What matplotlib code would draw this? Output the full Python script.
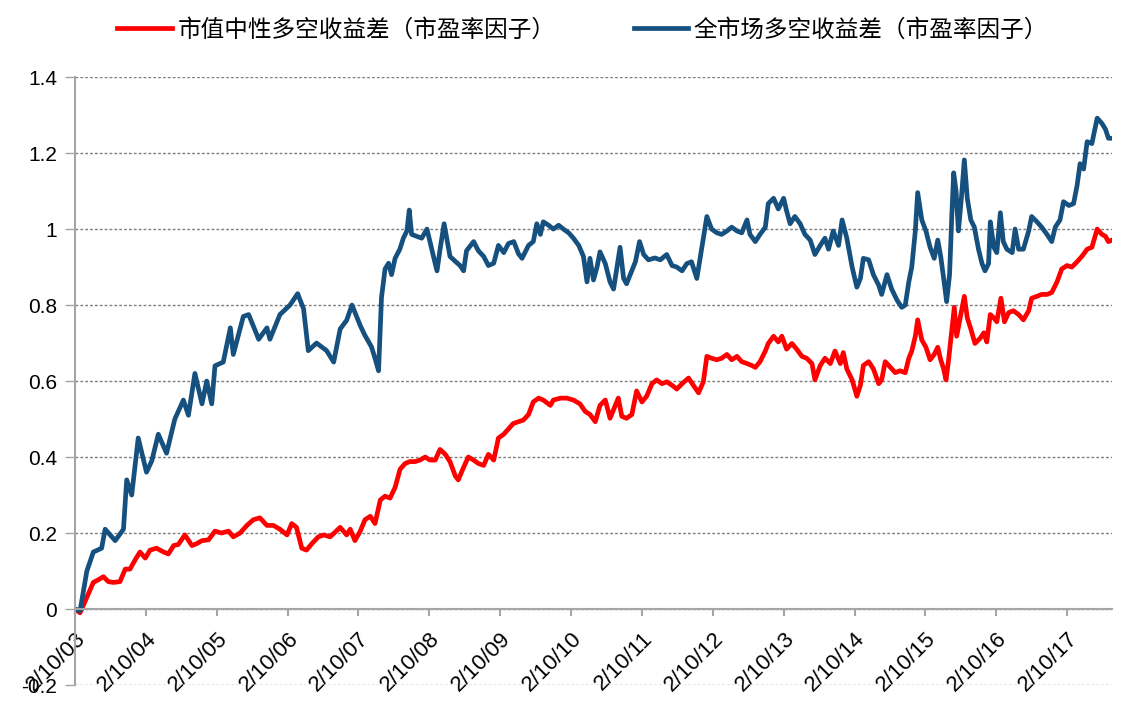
import numpy as np
import pandas as pd
import matplotlib
matplotlib.use('Agg')
import matplotlib.pyplot as plt

# months after 2003-02-10
red_months = [0, 0.85, 2.26, 3.1, 3.95, 4.8, 5.65, 6.5, 7.6, 8.5, 9.3, 10.2, 11.0, 11.9, 12.7,
              13.8, 15.0, 15.8, 16.7, 17.5, 18.6, 19.8, 20.6, 21.5, 22.6, 23.7, 24.8, 26.0, 26.8,
              27.95, 29.1, 30.2, 31.3, 32.5, 33.6, 34.7, 35.9, 36.7, 37.5, 38.4, 39.2, 40.1, 41.2,
              42.1, 43.2, 44.9, 46.0, 46.6, 47.4, 48.3, 49.1, 50.0, 50.8, 51.7, 52.5, 53.35, 54.2,
              55.05, 55.9, 56.7, 57.6, 58.4, 59.3, 60.1, 61.0, 61.8, 62.7, 63.5, 64.4, 64.9, 65.8,
              66.6, 67.5, 68.3, 69.2, 70.0, 70.9, 71.7, 72.6, 73.4, 74.2, 75.1, 75.9, 76.8, 77.6,
              78.5, 79.3, 80.5, 81.0, 82.2, 83.3, 84.4, 85.5, 86.4, 87.2, 88.1, 88.9, 89.8, 90.6,
              92.0, 92.6, 93.4, 94.3, 95.1, 96.0, 96.8, 97.7, 98.5, 99.4, 100.2, 101.1, 101.9,
              102.8, 103.9, 104.7, 105.6, 106.4, 107.0, 107.8, 108.7, 109.5, 110.4, 111.2, 112.1,
              112.9, 113.8, 114.6, 115.2, 116.0, 116.9, 117.4, 118.3, 119.1, 119.7, 120.5, 121.4,
              122.2, 123.1, 123.9, 124.8, 125.3, 126.2, 127.0, 127.9, 128.7, 129.6, 130.1, 130.7,
              131.6, 132.4, 133.0, 133.5, 134.4, 135.2, 136.1, 136.6, 137.2, 138.1, 138.9, 139.7,
              140.6, 141.2, 141.7, 142.3, 142.7, 143.4, 144.1, 144.8, 145.5, 146.1, 146.6, 147.1,
              147.5, 147.9, 148.5, 148.9, 149.3, 149.9, 150.6, 151.1, 151.7, 152.4, 153.3, 153.9,
              154.4, 155.0, 155.6, 156.1, 156.8, 157.4, 158.1, 158.9, 159.8, 160.6, 161.5, 162.0,
              162.9, 163.7, 164.6, 165.4, 166.3, 167.1, 168.0, 168.8, 169.7, 170.5, 171.4, 172.2,
              173.1, 173.9, 174.5, 175.0, 175.6]
red_values = [0, -0.01, 0.04, 0.07, 0.077, 0.085, 0.072, 0.07, 0.072, 0.105, 0.105, 0.13, 0.15,
              0.134, 0.155, 0.16, 0.15, 0.145, 0.167, 0.17, 0.195, 0.167, 0.172, 0.18, 0.182, 0.205,
              0.20, 0.205, 0.19, 0.20, 0.22, 0.235, 0.24, 0.22, 0.22, 0.21, 0.195, 0.225, 0.215,
              0.16, 0.155, 0.172, 0.19, 0.195, 0.19, 0.215, 0.195, 0.21, 0.18, 0.205, 0.235, 0.244,
              0.225, 0.287, 0.297, 0.292, 0.32, 0.368, 0.383, 0.388, 0.388, 0.392, 0.40, 0.392,
              0.392, 0.42, 0.407, 0.388, 0.35, 0.34, 0.373, 0.40, 0.392, 0.383, 0.378, 0.407, 0.392,
              0.45, 0.46, 0.474, 0.488, 0.493, 0.497, 0.512, 0.545, 0.555, 0.55, 0.536, 0.55, 0.555,
              0.555, 0.55, 0.54, 0.52, 0.512, 0.493, 0.536, 0.55, 0.502, 0.555, 0.507, 0.502, 0.512,
              0.574, 0.545, 0.56, 0.593, 0.603, 0.593, 0.598, 0.589, 0.579, 0.593, 0.608, 0.589,
              0.569, 0.598, 0.665, 0.66, 0.656, 0.66, 0.67, 0.656, 0.665, 0.651, 0.646, 0.641, 0.636,
              0.651, 0.679, 0.699, 0.718, 0.703, 0.718, 0.684, 0.699, 0.684, 0.665, 0.66, 0.646,
              0.603, 0.641, 0.66, 0.646, 0.679, 0.646, 0.675, 0.632, 0.603, 0.56, 0.589, 0.641,
              0.651, 0.632, 0.593, 0.603, 0.651, 0.636, 0.622, 0.627, 0.622, 0.66, 0.679, 0.718,
              0.761, 0.708, 0.689, 0.656, 0.67, 0.689, 0.656, 0.632, 0.603, 0.651, 0.737, 0.794,
              0.718, 0.766, 0.823, 0.766, 0.737, 0.699, 0.713, 0.727, 0.703, 0.775, 0.766, 0.756,
              0.818, 0.756, 0.78, 0.785, 0.775, 0.761, 0.785, 0.818, 0.823, 0.828, 0.828, 0.833,
              0.861, 0.895, 0.904, 0.90, 0.914, 0.928, 0.947, 0.952, 1.0, 0.986, 0.981, 0.967, 0.971]

blue_months = [0, 0.85, 2.0, 3.1, 4.5, 5.1, 6.8, 8.2, 8.75, 9.6, 10.7, 12.1, 13.0, 14.1, 15.5,
               16.9, 18.35, 19.2, 20.3, 21.5, 22.3, 23.15, 23.7, 25.1, 26.3, 26.8, 28.5, 29.4,
               31.1, 32.5, 33.0, 34.7, 36.4, 37.7, 38.7, 39.5, 40.9, 42.6, 43.8, 44.9, 46.0, 46.9,
               48.3, 49.1, 50.2, 50.8, 51.4, 51.9, 52.5, 53.1, 53.6, 54.2, 55.0, 55.6, 56.2, 56.6,
               57.0, 58.7, 59.6, 60.1, 60.7, 61.3, 61.8, 62.5, 62.95, 63.5, 64.4, 65.2, 65.8, 66.3,
               67.5, 68.3, 69.2, 70.0, 70.9, 71.7, 72.6, 73.4, 74.3, 75.1, 75.7, 76.8, 77.6, 78.2,
               78.8, 79.3, 80.2, 81.0, 81.9, 82.7, 83.6, 84.4, 85.3, 86.1, 86.7, 87.2, 87.8, 88.4,
               88.9, 89.8, 90.6, 91.2, 92.3, 92.9, 93.4, 94.9, 95.6, 96.3, 97.1, 98.2, 99.1, 100.2,
               101.1, 101.9, 102.8, 103.6, 104.4, 105.3, 106.1, 107.0, 107.8, 108.7, 109.5, 110.4,
               111.2, 112.1, 112.9, 113.8, 114.3, 115.2, 116.0, 116.9, 117.4, 118.3, 119.1, 120.0,
               120.5, 121.1, 121.9, 122.8, 123.6, 124.5, 125.3, 126.2, 127.0, 127.6, 128.4, 129.3,
               129.9, 130.7, 131.6, 132.4, 133.0, 133.5, 134.4, 135.2, 136.1, 136.6, 137.5, 138.3,
               139.2, 140.0, 140.6, 141.2, 141.7, 142.3, 142.7, 143.4, 144.1, 144.8, 145.5, 146.1,
               146.6, 147.1, 147.6, 148.1, 148.5, 148.8, 149.2, 149.6, 150.1, 150.6, 151.1, 151.7,
               152.3, 153.0, 153.6, 154.1, 154.7, 155.0, 155.6, 156.1, 156.7, 157.2, 157.8, 158.7,
               159.2, 159.8, 160.6, 161.5, 162.0, 162.9, 163.7, 164.6, 165.4, 166.0, 166.8, 167.4,
               168.3, 169.1, 169.7, 170.2, 170.8, 171.4, 172.2, 173.1, 173.9, 174.5, 175.0, 175.6]
blue_values = [0, -0.005, 0.10, 0.15, 0.16, 0.21, 0.18, 0.21, 0.34, 0.30, 0.45, 0.36, 0.39, 0.46,
               0.41, 0.50, 0.55, 0.51, 0.62, 0.54, 0.60, 0.54, 0.64, 0.65, 0.74, 0.67, 0.77, 0.775,
               0.71, 0.74, 0.71, 0.775, 0.80, 0.83, 0.79, 0.68, 0.70, 0.68, 0.65, 0.737, 0.76, 0.80,
               0.746, 0.72, 0.69, 0.66, 0.627, 0.82, 0.895, 0.91, 0.88, 0.923, 0.947, 0.976, 0.995,
               1.05, 0.986, 0.976, 1.0, 0.967, 0.928, 0.89, 0.945, 1.014, 0.976, 0.928, 0.915, 0.904,
               0.89, 0.943, 0.967, 0.943, 0.928, 0.904, 0.91, 0.957, 0.938, 0.962, 0.967, 0.935,
               0.923, 0.957, 0.967, 1.014, 0.986, 1.019, 1.01, 1.0, 1.01, 1.0, 0.99, 0.976, 0.957,
               0.928, 0.861, 0.923, 0.866, 0.90, 0.94, 0.909, 0.861, 0.842, 0.952, 0.87, 0.856,
               0.914, 0.967, 0.933, 0.919, 0.924, 0.919, 0.933, 0.904, 0.90, 0.89, 0.909, 0.914,
               0.87, 0.947, 1.033, 1.0, 0.99, 0.986, 0.995, 1.005, 0.995, 0.99, 1.024, 0.986, 0.967,
               0.986, 1.005, 1.067, 1.081, 1.053, 1.081, 1.048, 1.014, 1.033, 1.014, 0.986, 0.971,
               0.933, 0.957, 0.976, 0.947, 0.995, 0.957, 1.024, 0.976, 0.90, 0.847, 0.87, 0.923,
               0.919, 0.88, 0.852, 0.828, 0.88, 0.842, 0.813, 0.794, 0.80, 0.861, 0.90, 0.995, 1.096,
               1.024, 0.995, 0.952, 0.923, 0.971, 0.928, 0.87, 0.809, 0.88, 1.043, 1.148, 1.10,
               0.995, 1.081, 1.182, 1.081, 1.024, 1.005, 0.947, 0.909, 0.89, 0.909, 1.019, 0.952,
               0.938, 1.043, 0.967, 0.947, 0.938, 1.0, 0.947, 0.947, 0.995, 1.033, 1.019, 1.005,
               0.986, 0.967, 1.005, 1.024, 1.072, 1.062, 1.067, 1.115, 1.172, 1.158, 1.23, 1.225,
               1.292, 1.278, 1.263, 1.239, 1.239]

tick_labels = ['2/10/03', '2/10/04', '2/10/05', '2/10/06', '2/10/07', '2/10/08', '2/10/09',
               '2/10/10', '2/10/11', '2/10/12', '2/10/13', '2/10/14', '2/10/15', '2/10/16',
               '2/10/17']
y_ticks = [-0.2, 0, 0.2, 0.4, 0.6, 0.8, 1.0, 1.2, 1.4]
red_name = '市值中性多空收益差（市盈率因子）'
blue_name = '全市场多空收益差（市盈率因子）'

start = pd.Timestamp('2003-02-10')


def to_dates(months):
    return start + pd.to_timedelta(np.asarray(months) * 30.4375, unit='D')


plt.rcParams['font.family'] = ['Liberation Sans', 'Noto Sans CJK SC']

fig = plt.figure(figsize=(11.25, 7.02), dpi=100)
ax = fig.add_axes([0.0667, 0.0242, 0.9217, 0.866])

red_line, = ax.plot(to_dates(red_months), red_values, color='#FF0000', lw=3.4,
                    solid_joinstyle='round', label=red_name)
blue_line, = ax.plot(to_dates(blue_months), blue_values, color='#15507E', lw=3.4,
                     solid_joinstyle='round', label=blue_name)

ax.set_ylim(-0.2, 1.4)
ax.set_xlim(start, to_dates([blue_months[-1]])[0])

# grid and spines
ax.set_yticks(y_ticks)
ax.set_yticklabels(['%g' % v for v in y_ticks])
ax.yaxis.grid(True, linestyle=(0, (2, 1.5)), color='#7F7F7F', lw=1)
ax.set_axisbelow(True)
for s in ['top', 'right']:
    ax.spines[s].set_visible(False)
ax.spines['bottom'].set_position(('data', 0))
ax.spines['bottom'].set_color('#A6A6A6')
ax.spines['bottom'].set_linewidth(1.5)
ax.spines['left'].set_color('#A6A6A6')
ax.spines['left'].set_linewidth(1.5)

tick_dates = [pd.Timestamp('%d-02-10' % y) for y in range(2003, 2018)]
ax.set_xticks(tick_dates)
ax.set_xticklabels(tick_labels, rotation=45, ha='right', va='top', rotation_mode='anchor')
ax.tick_params(axis='x', direction='out', length=5, width=1.5, color='#A6A6A6',
               labelsize=16, pad=9)
ax.tick_params(axis='y', direction='out', length=7, width=1, color='#A6A6A6',
               labelsize=15, pad=6)

fig.legend(handles=[red_line, blue_line], loc='center', bbox_to_anchor=(0.518, 0.957),
           ncol=2, frameon=False, prop={'family': 'Noto Sans CJK SC', 'size': 17},
           handlelength=2.3, handletextpad=0.25, columnspacing=3.3)

fig.savefig('out.png', dpi=100)
